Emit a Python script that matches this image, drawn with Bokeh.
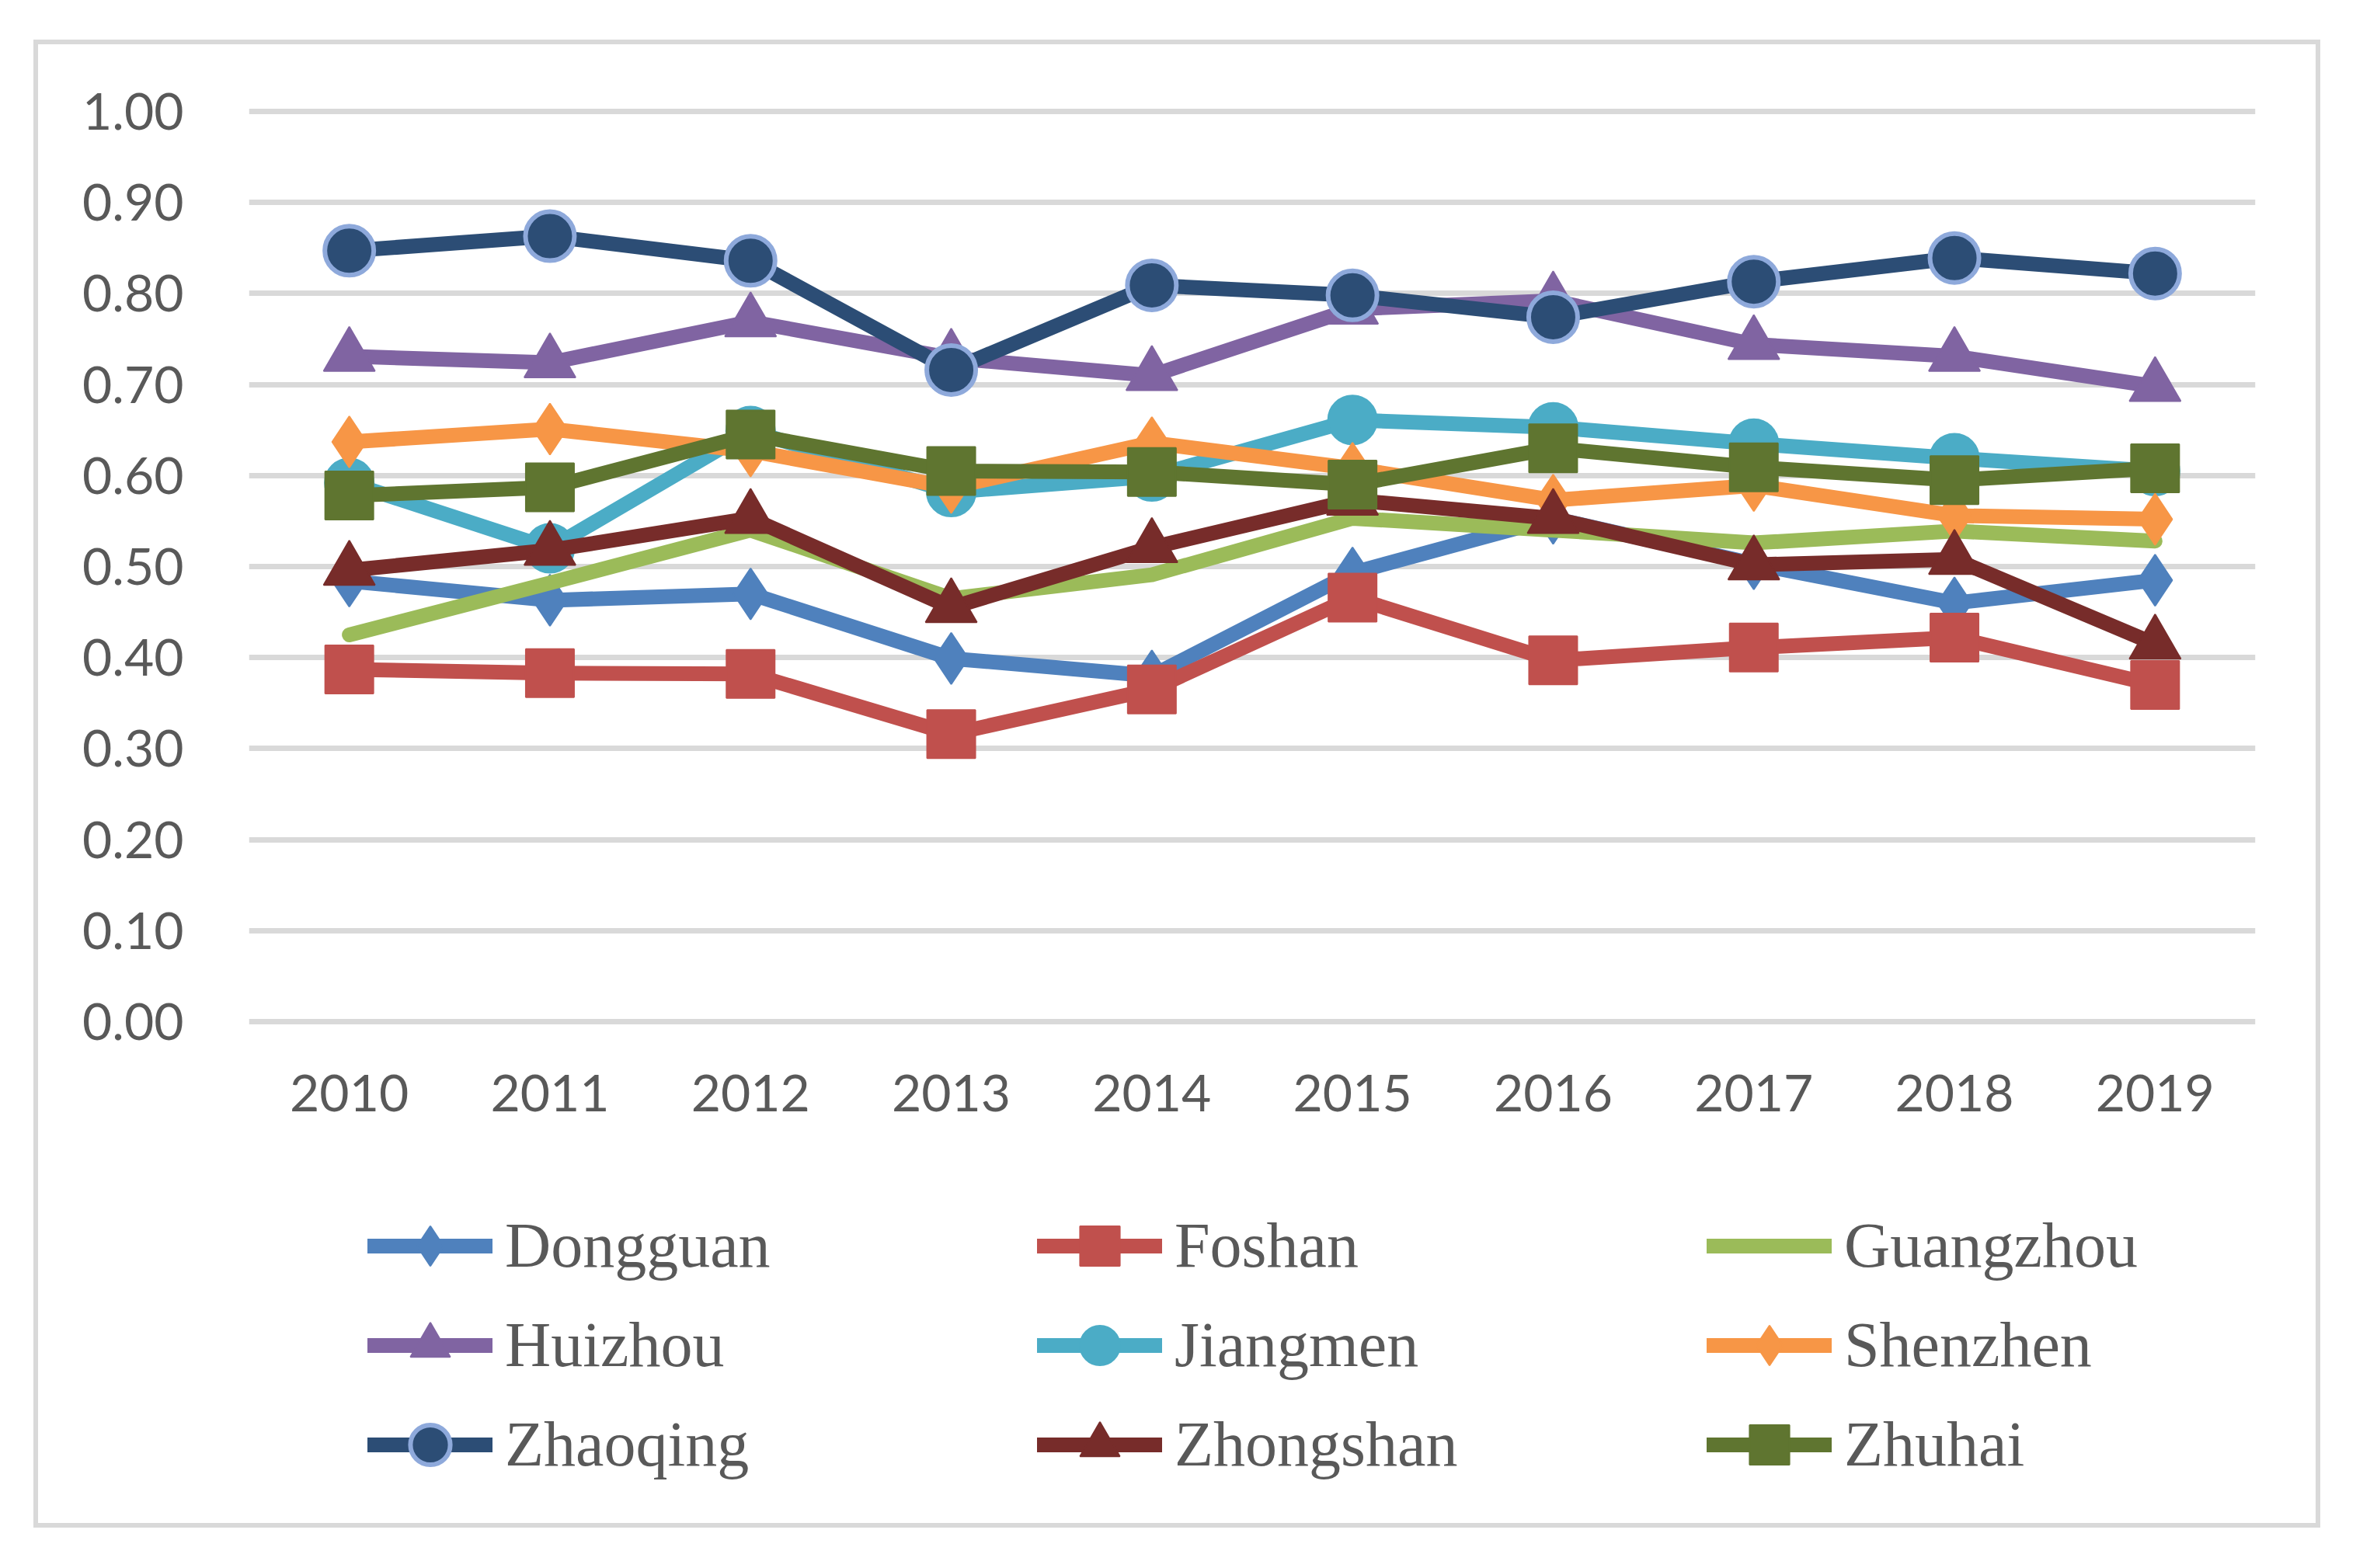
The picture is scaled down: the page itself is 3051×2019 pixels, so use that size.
from bokeh.plotting import figure
from bokeh.models import (FactorRange, Range1d, FixedTicker, NumeralTickFormatter,
                          Legend, LegendItem)
from bokeh.embed import file_html
from bokeh.resources import INLINE

# ---------------- data ----------------
years = ["2010", "2011", "2012", "2013", "2014", "2015", "2016", "2017", "2018", "2019"]
y_ticks = [0.0, 0.1, 0.2, 0.3, 0.4, 0.5, 0.6, 0.7, 0.8, 0.9, 1.0]

dongguan = [0.484, 0.463, 0.470, 0.399, 0.380, 0.493, 0.553, 0.503, 0.460, 0.485]
foshan = [0.387, 0.383, 0.382, 0.316, 0.365, 0.466, 0.397, 0.411, 0.422, 0.370]
guangzhou = [0.425, 0.482, 0.540, 0.465, 0.491, 0.553, 0.540, 0.526, 0.539, 0.528]
huizhou = [0.731, 0.724, 0.769, 0.729, 0.710, 0.783, 0.792, 0.744, 0.731, 0.698]
jiangmen = [0.592, 0.520, 0.649, 0.582, 0.599, 0.661, 0.653, 0.635, 0.619, 0.605]
shenzhen = [0.637, 0.651, 0.627, 0.587, 0.636, 0.608, 0.573, 0.589, 0.556, 0.552]
zhaoqing = [0.847, 0.863, 0.836, 0.716, 0.809, 0.798, 0.774, 0.813, 0.839, 0.822]
zhongshan = [0.496, 0.518, 0.553, 0.455, 0.521, 0.573, 0.553, 0.502, 0.508, 0.415]
zhuhai = [0.578, 0.587, 0.645, 0.605, 0.604, 0.590, 0.630, 0.609, 0.595, 0.608]

series_names = ["Dongguan", "Foshan", "Guangzhou", "Huizhou", "Jiangmen",
                "Shenzhen", "Zhaoqing", "Zhongshan", "Zhuhai"]
series_values = [dongguan, foshan, guangzhou, huizhou, jiangmen,
                 shenzhen, zhaoqing, zhongshan, zhuhai]

# ---------------- styles ----------------
colors = ["#4F81BD", "#C0504D", "#9BBB59", "#8064A2", "#4BACC6",
          "#F79646", "#2C4D75", "#772C2A", "#5F7530"]
markers = ["diamond", "square", None, "triangle", "circle",
           "diamond", "circle", "triangle", "square"]
marker_sizes = {"diamond": 66, "square": 62, "triangle": 66, "circle": 63}
TEXT = "#595959"
GRID = "#D9D9D9"

# frame spans the whole inner area; the value axis occupies its upper part
p = figure(
    width=2944, height=1916,
    x_range=FactorRange(factors=years, range_padding=0),
    y_range=Range1d(-0.5520, 1.0060),
    output_backend="svg", toolbar_location=None,
    min_border_left=271, min_border_right=90,
    min_border_top=79, min_border_bottom=11,
)
p.margin = (51, 0, 0, 43)
p.styles = {"border": "6px solid #D9D9D9"}
p.outline_line_color = None
p.background_fill_color = "white"
p.border_fill_color = "white"

# axes
p.yaxis.ticker = FixedTicker(ticks=y_ticks)
p.yaxis.formatter = NumeralTickFormatter(format="0.00")
p.xaxis.fixed_location = 0
for ax in (p.xaxis[0], p.yaxis[0]):
    ax.axis_line_color = None
    ax.major_tick_line_color = None
    ax.minor_tick_line_color = None
    ax.major_tick_out = 0
    ax.major_tick_in = 0
    ax.major_label_text_font = "Lato"
    ax.major_label_text_font_size = "66px"
    ax.major_label_text_color = TEXT
p.yaxis.major_label_standoff = 84
p.xaxis.major_label_standoff = 68

p.xgrid.visible = False
p.ygrid.grid_line_color = GRID
p.ygrid.grid_line_width = 7

items = []
for name, vals, col, mk in zip(series_names, series_values, colors, markers):
    rs = []
    ln = p.line(x=years, y=vals, line_color=col, line_width=19,
                line_join="round", line_cap="round")
    rs.append(ln)
    if mk is not None:
        if name == "Zhaoqing":
            sc = p.scatter(x=years, y=vals, marker=mk, size=marker_sizes[mk],
                           fill_color=col, line_color="#8EA9DB", line_width=6)
        else:
            sc = p.scatter(x=years, y=vals, marker=mk, size=marker_sizes[mk],
                           fill_color=col, line_color=col, line_width=2)
        rs.append(sc)
    items.append(LegendItem(label=name, renderers=rs))

legend = Legend(
    items=items, ncols=3, orientation="horizontal",
    location=(153, 38),
    glyph_width=161, glyph_height=128,
    label_standoff=16, label_width=685, label_height=20,
    spacing=0, padding=0, margin=0,
    border_line_color=None, background_fill_alpha=0,
    label_text_font="Liberation Serif", label_text_font_size="82px",
    label_text_color=TEXT,
)
p.add_layout(legend, "center")

open("out.html", "w").write(file_html(p, INLINE))
